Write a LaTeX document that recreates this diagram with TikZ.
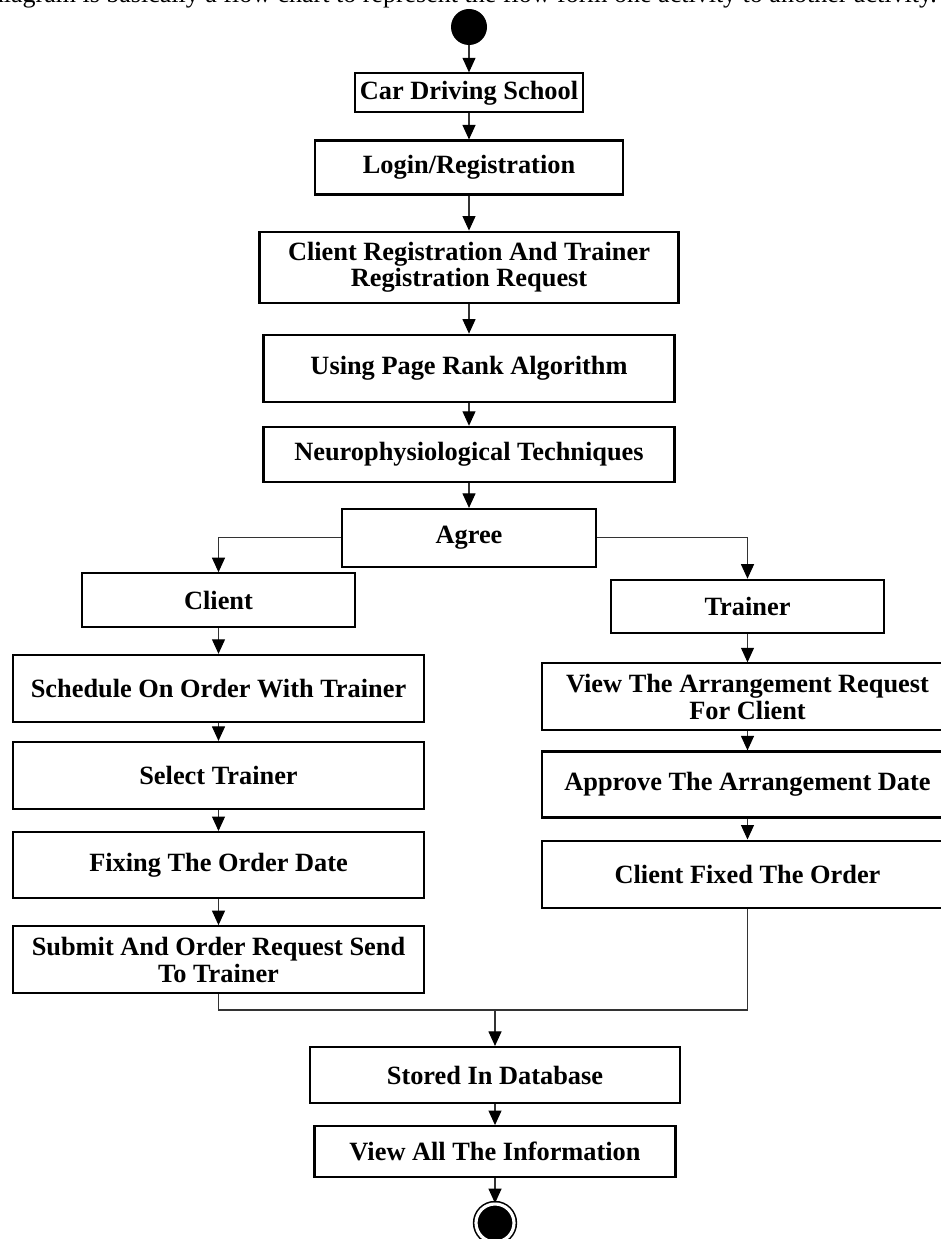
\documentclass[tikz,border=0pt]{standalone}
\usepackage{fontspec}
\setmainfont{Liberation Serif}
\usetikzlibrary{arrows.meta,positioning}
\tikzset{
  flowarr/.style={-{Triangle[length=2.9mm,width=2.6mm,black]}, line width=0.6pt, draw=black!80},
  flowline/.style={line width=0.6pt, draw=black!80},
  actnode/.style={draw, line width=1.2pt, align=center, inner sep=2pt, font=\bfseries\fontsize{15}{15.2}\selectfont},
}

\begin{document}
\begin{tikzpicture}[
  wide/.style={actnode, minimum width=8.22cm, minimum height=1.34cm},
  narrow/.style={actnode, minimum width=5.46cm, minimum height=1.07cm},
  startdot/.style={circle, fill=black, inner sep=0pt, minimum size=0.72cm},
  enddot/.style={circle, fill=black, draw=black, line width=0.9pt, double=white, double distance=1.8pt, inner sep=0pt, minimum size=0.76cm},
]
  \useasboundingbox (0,0) rectangle (18.8,-24.78);
  \node[anchor=base east, inner sep=0pt, font=\fontsize{14.8}{18}\selectfont] (caption) at (18.74,-0.06)
    {Activity diagram is basically a flow chart to represent the flow form one activity to another activity.};

  \node[startdot] (start) at (9.38,-0.54) {};
  \node[actnode, minimum width=4.56cm, minimum height=0.78cm, below=0.54cm of start] (car) {Car Driving School};
  \node[actnode, minimum width=6.16cm, minimum height=1.08cm, below=0.52cm of car] (login) {Login/Registration};
  \node[actnode, minimum width=8.38cm, minimum height=1.42cm, below=0.70cm of login] (reg) {Client Registration And Trainer\\Registration Request};
  \node[wide, below=0.60cm of reg] (rank) {Using Page Rank Algorithm};
  \node[wide, minimum height=1.10cm, below=0.46cm of rank] (neuro) {Neurophysiological Techniques};
  \node[actnode, minimum width=5.08cm, minimum height=1.16cm, below=0.50cm of neuro] (agree) {Agree};

  \node[narrow] (client) at (4.37,-12.00) {Client};
  \node[wide, below=0.52cm of client] (schedule) {Schedule On Order With Trainer};
  \node[wide, below=0.36cm of schedule] (select) {Select Trainer};
  \node[wide, minimum height=1.32cm, below=0.42cm of select] (fixing) {Fixing The Order Date};
  \node[wide, below=0.52cm of fixing] (submit) {Submit And Order Request Send\\To Trainer};

  \node[narrow] (trainer) at (14.95,-12.13) {Trainer};
  \node[wide, below=0.56cm of trainer] (viewreq) {View The Arrangement Request\\For Client};
  \node[wide, minimum height=1.32cm, below=0.38cm of viewreq] (approve) {Approve The Arrangement Date};
  \node[wide, below=0.42cm of approve] (fixed) {Client Fixed The Order};

  \coordinate (join) at (9.90,-20.20);
  \node[actnode, minimum width=7.40cm, minimum height=1.12cm] (stored) at (9.90,-21.50) {Stored In Database};
  \node[actnode, minimum width=7.22cm, minimum height=1.02cm, below=0.42cm of stored] (viewall) {View All The Information};
  \node[enddot, below=0.50cm of viewall] (end) {};

  \foreach \a/\b in {start/car, car/login, login/reg, reg/rank, rank/neuro, neuro/agree,
                     client/schedule, schedule/select, select/fixing, fixing/submit,
                     trainer/viewreq, viewreq/approve, approve/fixed, stored/viewall, viewall/end}
    \draw[flowarr] (\a.south) -- (\b.north);
  \draw[flowarr] (agree.west) -| (client.north);
  \draw[flowarr] (agree.east) -| (trainer.north);
  \draw[flowline] (submit.south) |- (join);
  \draw[flowline] (fixed.south) |- (join);
  \draw[flowarr] (join) -- (stored.north);
\end{tikzpicture}
\end{document}
